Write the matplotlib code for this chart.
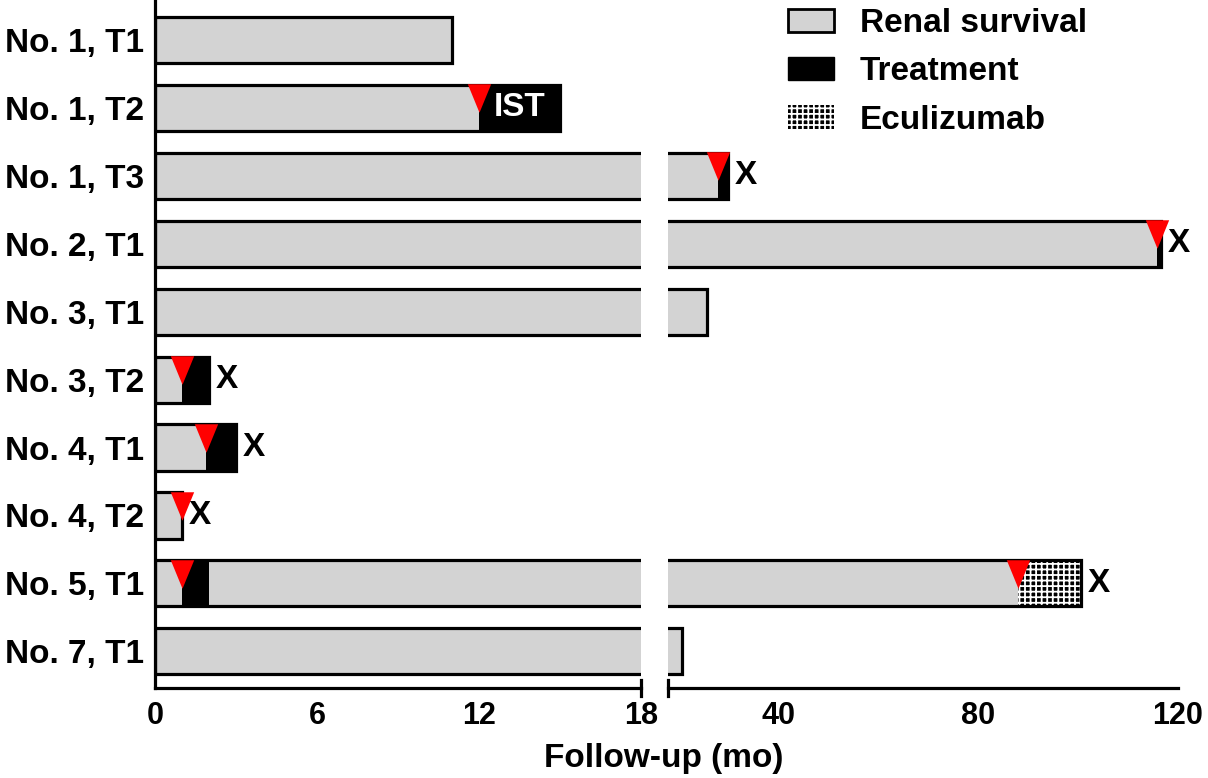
import matplotlib.pyplot as plt
from matplotlib.patches import Patch
import numpy as np

plt.rcParams['font.family'] = ['Liberation Sans', 'DejaVu Sans']
plt.rcParams['font.weight'] = 'bold'
plt.rcParams['hatch.linewidth'] = 1.3

labels = ['No. 1, T1', 'No. 1, T2', 'No. 1, T3', 'No. 2, T1', 'No. 3, T1',
          'No. 3, T2', 'No. 4, T1', 'No. 4, T2', 'No. 5, T1', 'No. 7, T1']
# total follow-up per row (months)
follow_up = [11, 15, 30, 116.5, 25.8, 2, 3, 1, 100.5, 20.8]
# treatment periods (row index, start, end)
treat_rows = [1, 2, 3, 5, 6, 8]
treat_start = [12, 28, 115.8, 1, 1.9, 1]
treat_end = [15, 30, 116.5, 2, 3, 2]
# eculizumab periods
ecu_rows = [8]
ecu_start = [88]
ecu_end = [100.5]
# red triangles (start of treatment)
tri_rows = [1, 2, 3, 5, 6, 7, 8, 8]
tri_x = [12, 28, 115.8, 1, 1.9, 1, 1, 88]
# rows ending with X
x_rows = [2, 3, 5, 6, 7, 8]

grey = '#d3d3d3'
bh = 0.68
y = np.arange(len(labels))
fs = 24

fig = plt.figure(figsize=(12.08, 7.78), dpi=100)
ax1 = fig.add_axes([155 / 1208, 1 - 688 / 778, 486 / 1208, 688 / 778])
ax2 = fig.add_axes([668 / 1208, 1 - 688 / 778, 510 / 1208, 688 / 778])

tri = [(-0.41, 0.5), (0.41, 0.5), (0, -0.5)]

for ax in (ax1, ax2):
    ax.barh(y, follow_up, height=bh, color=grey, edgecolor='none', zorder=2)
    ax.barh([y[r] for r in treat_rows], np.array(treat_end) - np.array(treat_start),
            left=treat_start, height=bh, color='black', edgecolor='none', zorder=3)
    ax.barh([y[r] for r in ecu_rows], np.array(ecu_end) - np.array(ecu_start),
            left=ecu_start, height=bh, color='black', edgecolor='white',
            hatch='+++', linewidth=0, zorder=3)
    ax.barh(y, follow_up, height=bh, color='none', edgecolor='black',
            linewidth=2.3, zorder=4)
    ax.scatter(tri_x, [y[r] - bh / 2 + 0.2 for r in tri_rows], marker=tri,
               s=20.5 ** 2, color='red', linewidths=0, zorder=5)
    ax.set_ylim(9.54, -0.59)
    for s in ['top', 'right']:
        ax.spines[s].set_visible(False)
    ax.spines['bottom'].set_linewidth(2.3)
    ax.tick_params(axis='x', length=0, labelsize=22, pad=9)

ax1.set_xlim(0, 18)
ax1.set_xticks([0, 6, 12, 18])
ax1.spines['left'].set_linewidth(2.3)
ax1.set_yticks(y)
ax1.set_yticklabels(labels, fontsize=fs)
ax1.tick_params(axis='y', length=0, pad=8)

ax2.set_xlim(18, 120)
ax2.set_xticks([40, 80, 120])
ax2.spines['left'].set_visible(False)
ax2.set_yticks([])

# break caps on the x axis
ax1.plot([1, 1], [-0.012, 0.012], transform=ax1.transAxes, color='black',
         lw=2.3, clip_on=False, zorder=6)
ax2.plot([0, 0], [-0.012, 0.012], transform=ax2.transAxes, color='black',
         lw=2.3, clip_on=False, zorder=6)

for r in x_rows:
    ax = ax1 if follow_up[r] <= 18 else ax2
    ax.annotate('X', (follow_up[r], y[r]), xytext=(5, 0), textcoords='offset points',
                ha='left', va='center', fontsize=fs, zorder=6, annotation_clip=False)

ax1.text(13.5, y[1], 'IST', color='white', ha='center', va='center',
         fontsize=fs, zorder=6)

handles = [Patch(facecolor=grey, edgecolor='black', linewidth=2),
           Patch(facecolor='black', edgecolor='black'),
           Patch(facecolor='black', edgecolor='white', hatch='+++', linewidth=0)]
fig.legend(handles, ['Renal survival', 'Treatment', 'Eculizumab'],
           loc='upper left', bbox_to_anchor=(788 / 1208, 1 - 8 / 778), frameon=False,
           fontsize=fs, handlelength=1.38, handleheight=0.69, handletextpad=0.78,
           labelspacing=0.52, borderpad=0, borderaxespad=0)

fig.text(664 / 1208, 1 - 759 / 778, 'Follow-up (mo)', ha='center', va='center',
         fontsize=fs)

fig.savefig('out.png', dpi=100)
